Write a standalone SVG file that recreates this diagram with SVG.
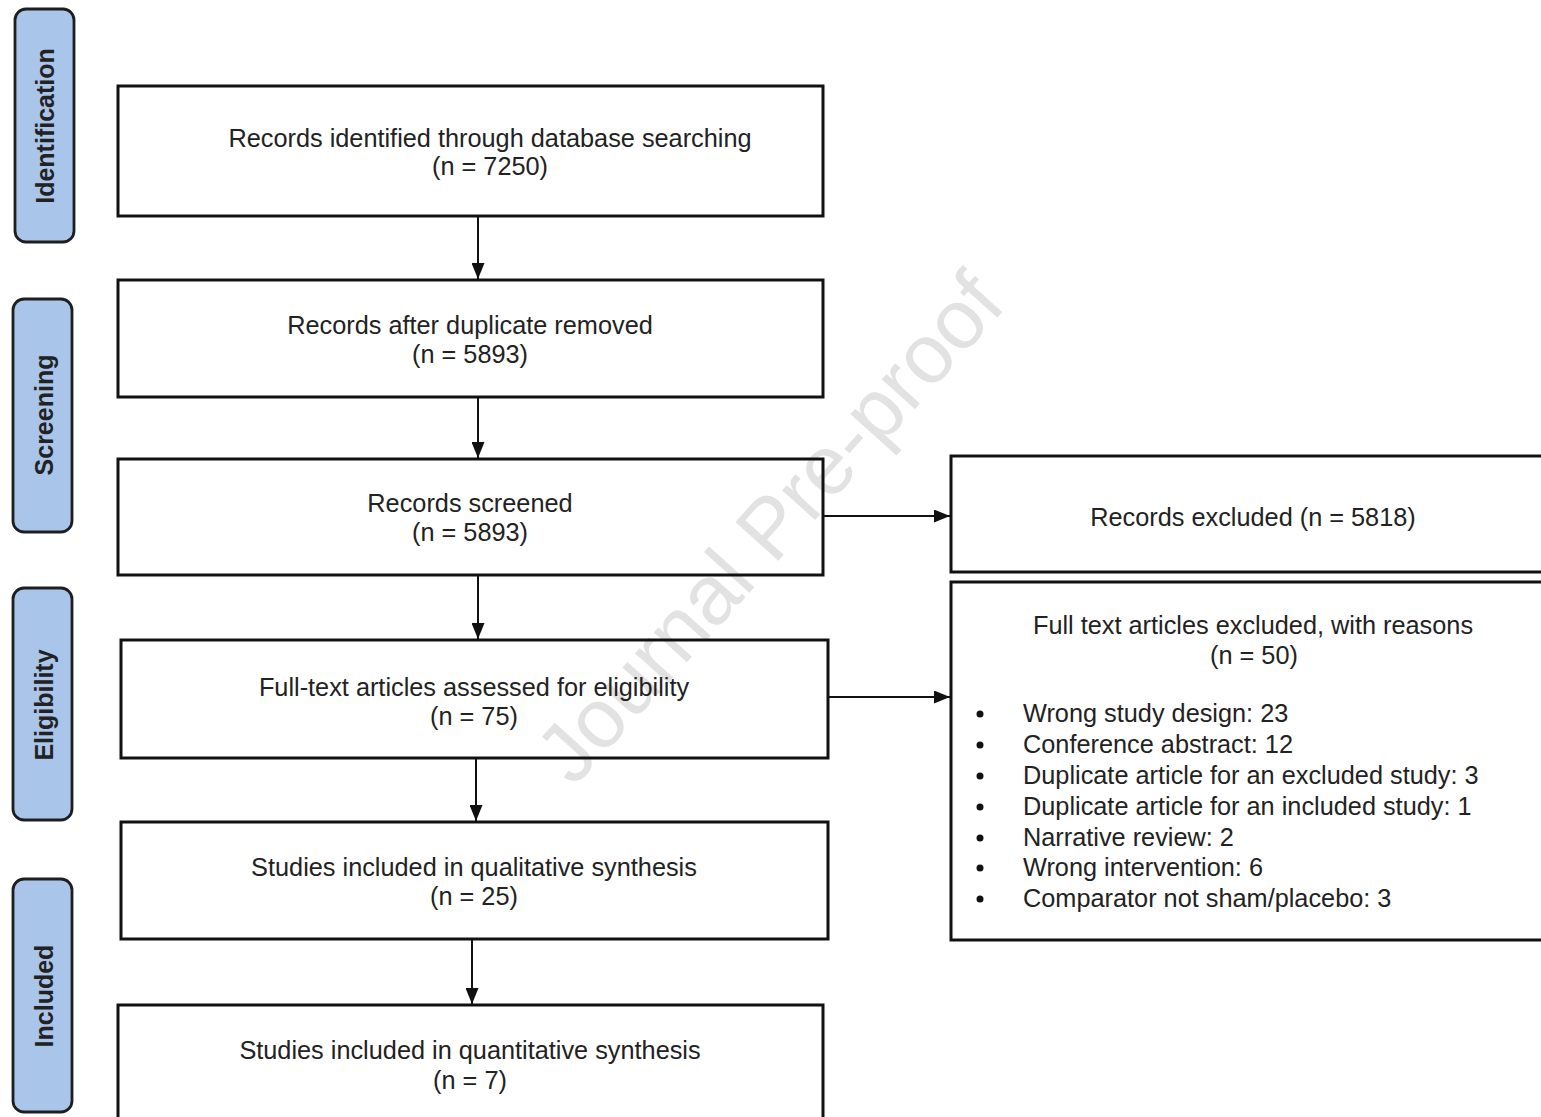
<svg xmlns="http://www.w3.org/2000/svg" width="1541" height="1117" viewBox="0 0 1541 1117">
<style>
.box{fill:none;stroke:#111;stroke-width:3}
.stage{fill:#a9c5ea;stroke:#1e1e1e;stroke-width:2.8}
.t{font-family:"Liberation Sans",Arial,sans-serif;font-size:25.3px;fill:#222;text-anchor:middle}
.tl{font-family:"Liberation Sans",Arial,sans-serif;font-size:25.3px;fill:#222}
.st{font-family:"Liberation Sans",Arial,sans-serif;font-size:25px;font-weight:bold;fill:#222;text-anchor:middle}
.wm{font-family:"Liberation Sans",Arial,sans-serif;font-size:84px;fill:#e2e2e2;text-anchor:middle}
.c{stroke:#111;stroke-width:2;fill:none;marker-end:url(#ah)}
</style>
<defs>
<marker id="ah" viewBox="0 0 16 13" refX="16" refY="6.5" markerWidth="16" markerHeight="13" markerUnits="userSpaceOnUse" orient="auto">
<path d="M0,0 L16,6.5 L0,13 Z" fill="#111"/>
</marker>
</defs>
<rect width="1541" height="1117" fill="#fff"/>
<text class="wm" x="770" y="556" transform="rotate(-48 770 528)">Journal Pre-proof</text>

<g id="stage-identification"><rect class="stage" x="15" y="9" width="59" height="233" rx="11"/><text class="st" x="54" y="126" transform="rotate(-90 54 126)">Identification</text></g>
<g id="stage-screening"><rect class="stage" x="13" y="299" width="59" height="233" rx="11"/><text class="st" x="53" y="415" transform="rotate(-90 53 415)">Screening</text></g>
<g id="stage-eligibility"><rect class="stage" x="13" y="588" width="59" height="232" rx="11"/><text class="st" x="53" y="705" transform="rotate(-90 53 705)">Eligibility</text></g>
<g id="stage-included"><rect class="stage" x="13" y="879" width="59" height="233" rx="11"/><text class="st" x="53" y="996" transform="rotate(-90 53 996)">Included</text></g>

<g id="n1"><rect class="box" x="118" y="86" width="705" height="130"/><text class="t" x="490" y="147">Records identified through database searching</text><text class="t" x="490" y="175">(n = 7250)</text></g>
<g id="n2"><rect class="box" x="118" y="280" width="705" height="117"/><text class="t" x="470" y="334">Records after duplicate removed</text><text class="t" x="470" y="363">(n = 5893)</text></g>
<g id="n3"><rect class="box" x="118" y="459" width="705" height="116"/><text class="t" x="470" y="512">Records screened</text><text class="t" x="470" y="541">(n = 5893)</text></g>
<g id="n4"><rect class="box" x="121" y="640" width="707" height="118"/><text class="t" x="474" y="696">Full-text articles assessed for eligibility</text><text class="t" x="474" y="725">(n = 75)</text></g>
<g id="n5"><rect class="box" x="121" y="822" width="707" height="117"/><text class="t" x="474" y="876">Studies included in qualitative synthesis</text><text class="t" x="474" y="905">(n = 25)</text></g>
<g id="n6"><rect class="box" x="118" y="1005" width="705" height="125"/><text class="t" x="470" y="1059">Studies included in quantitative synthesis</text><text class="t" x="470" y="1089">(n = 7)</text></g>
<g id="r1"><rect class="box" x="951" y="456" width="600" height="116"/><text class="t" x="1253" y="526">Records excluded (n = 5818)</text></g>
<g id="r2"><rect class="box" x="951" y="582" width="600" height="358"/>
<text class="t" x="1253" y="634">Full text articles excluded, with reasons</text><text class="t" x="1254" y="664">(n = 50)</text>
<g fill="#111"><circle cx="980" cy="714" r="3.5"/><circle cx="980" cy="745" r="3.5"/><circle cx="980" cy="776" r="3.5"/><circle cx="980" cy="807" r="3.5"/><circle cx="980" cy="838" r="3.5"/><circle cx="980" cy="868" r="3.5"/><circle cx="980" cy="899" r="3.5"/></g>
<text class="tl" x="1023" y="722">Wrong study design: 23</text>
<text class="tl" x="1023" y="753">Conference abstract: 12</text>
<text class="tl" x="1023" y="784">Duplicate article for an excluded study: 3</text>
<text class="tl" x="1023" y="815">Duplicate article for an included study: 1</text>
<text class="tl" x="1023" y="846">Narrative review: 2</text>
<text class="tl" x="1023" y="876">Wrong intervention: 6</text>
<text class="tl" x="1023" y="907">Comparator not sham/placebo: 3</text>
</g>

<g id="connectors">
<line class="c" x1="478" y1="217" x2="478" y2="279"/>
<line class="c" x1="478" y1="398" x2="478" y2="458"/>
<line class="c" x1="478" y1="576" x2="478" y2="639"/>
<line class="c" x1="476" y1="759" x2="476" y2="821"/>
<line class="c" x1="472" y1="940" x2="472" y2="1004"/>
<line class="c" x1="824" y1="516" x2="950" y2="516"/>
<line class="c" x1="829" y1="697" x2="950" y2="697"/>
</g>
</svg>
